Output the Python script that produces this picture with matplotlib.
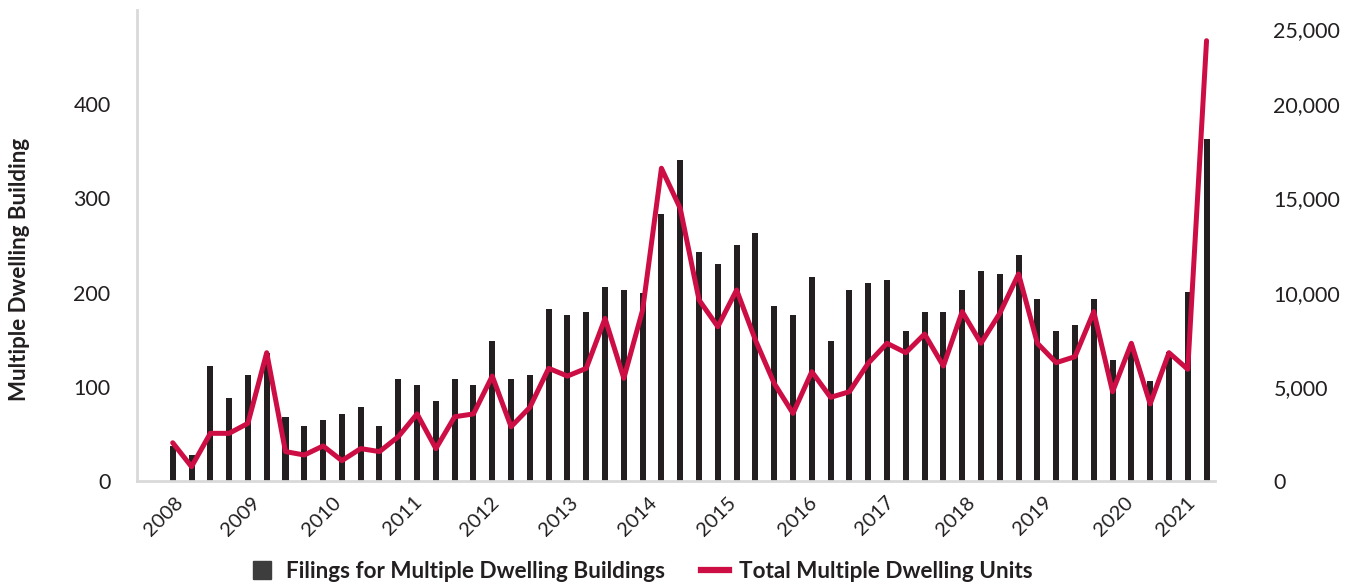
import matplotlib
matplotlib.use("Agg")
import matplotlib.pyplot as plt
import matplotlib.transforms as mtransforms
from matplotlib.lines import Line2D
import numpy as np

plt.rcParams['font.family'] = ['Lato', 'DejaVu Sans']

# quarterly series, 2008 Q1 .. 2021 Q4
quarters = [f"{y} Q{q}" for y in range(2008, 2022) for q in range(1, 5)]
filings = [37, 28, 122, 88, 112, 136, 68, 58, 65, 71, 79, 58,
           108, 102, 85, 108, 102, 149, 108, 112, 183, 176, 179, 206,
           203, 200, 283, 341, 243, 230, 251, 263, 186, 176, 217, 149,
           203, 210, 213, 159, 179, 179, 203, 223, 220, 240, 193, 159,
           166, 193, 128, 139, 106, 137, 201, 363]
units = [2030, 760, 2530, 2530, 3060, 6810, 1560, 1380, 1860, 1080, 1720, 1560,
         2350, 3560, 1720, 3410, 3560, 5570, 2880, 3910, 5980, 5570, 5980, 8630,
         5450, 9080, 16600, 14470, 9610, 8190, 10140, 7480, 5180, 3590, 5800, 4440,
         4740, 6250, 7310, 6810, 7800, 6100, 8990, 7310, 8900, 10990, 7310, 6280,
         6600, 8990, 4740, 7310, 4090, 6810, 5930, 23370]
years = [str(y) for y in range(2008, 2022)]

bar_color = '#231f20'
line_color = '#cc0e44'
spine_color = '#d9d9d9'

fig = plt.figure(figsize=(13.54, 5.84), dpi=100)
ax = fig.add_axes([137 / 1354, 103 / 584, (1215 - 137) / 1354, (481 - 10) / 584])
x = np.arange(len(quarters))

ax.bar(x, filings, width=0.32, color=bar_color)
ax.set_xlim(-1.9, 55.45)
ax.set_ylim(0, 500)
ax.set_yticks([0, 100, 200, 300, 400])
ax.tick_params(axis='y', length=0, pad=19, labelsize=15.5, labelcolor='#231f20')

# year labels sit roughly every 4.2 quarters along the axis
year_pos = [0.1, 4.2, 8.5, 12.8, 16.9, 21.1, 25.3, 29.5, 33.8, 37.9, 42.2, 46.3, 50.6, 53.9]
ax.set_xticks(year_pos)
ax.set_xticklabels(years, rotation=45, ha='right', va='top', rotation_mode='anchor')
ax.tick_params(axis='x', length=0, pad=9, labelsize=14.5, labelcolor='#231f20')

for side in ['top', 'right']:
    ax.spines[side].set_visible(False)
for side in ['left', 'bottom']:
    ax.spines[side].set_color(spine_color)
    ax.spines[side].set_linewidth(2)

ax2 = ax.twinx()
ax2.plot(x, units, color=line_color, lw=3.6, solid_joinstyle='round', solid_capstyle='round')
ax2.set_ylim(0, 25000)
ax2.set_yticks(range(0, 25001, 5000))
ax2.set_yticklabels([f"{v:,}" for v in range(0, 25001, 5000)])
ax2.tick_params(axis='y', length=0, pad=42, labelsize=15.5, labelcolor='#231f20')
for s in ax2.spines.values():
    s.set_visible(False)

# keep the top right label inside the figure
top_lbl = ax2.yaxis.get_major_ticks()[-1].label2
top_lbl.set_transform(top_lbl.get_transform() +
                      mtransforms.ScaledTranslation(0, -19 / 100, fig.dpi_scale_trans))

fig.text(20 / 1354, 1 - 269 / 584, 'Multiple Dwelling Building', rotation=90,
         ha='center', va='center', fontsize=16, fontweight='bold', color='#231f20')

handles = [
    Line2D([], [], linestyle='none', marker='s', markersize=13, color='#3d3d3d'),
    Line2D([], [], color=line_color, lw=4.5),
]
fig.legend(handles, ['Filings for Multiple Dwelling Buildings', 'Total Multiple Dwelling Units'],
           loc='center', bbox_to_anchor=(640 / 1354, 1 - 571 / 584), ncol=2, frameon=False,
           prop={'size': 16.2, 'weight': 'bold'}, handlelength=1.25, handletextpad=0.45,
           columnspacing=1.6, labelcolor='#231f20')

fig.savefig('out.png', dpi=100)
